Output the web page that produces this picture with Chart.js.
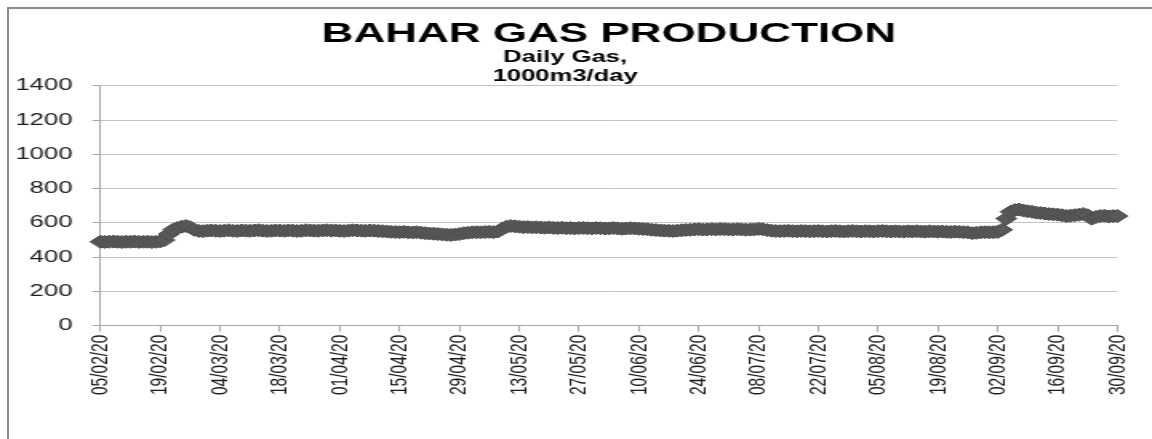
<!DOCTYPE html>
<html>
<head>
<meta charset="utf-8">
<script src="https://cdn.jsdelivr.net/npm/chart.js@4.4.1/dist/chart.umd.min.js"></script>
<style>
  html, body { margin: 0; padding: 0; background: #fff; overflow: hidden; }
  #frame {
    position: absolute; left: 7px; top: 7px; width: 1200px; height: 500px;
    border-left: 2px solid #8c8c8c; border-top: 2px solid #8c8c8c;
  }
  #gasChart { position: absolute; left: 0; top: 0; width: 1152px; height: 439px; }
</style>
</head>
<body>
<div id="frame"></div>
<canvas id="gasChart" width="720" height="439" style="width:1152px;height:439px"></canvas>
<script>
// daily gas production, 1000 m3/day, 05/02/20 .. 30/09/20
const startDate = new Date(2020, 1, 5);
const dayCount = 239;

const gasValues = [
    // 05/02 - 18/02
    490, 489, 490, 491, 490, 488, 490, 490, 491, 489, 490, 490, 488, 490,
    // 19/02 - 28/02
    492, 500, 535, 560, 570, 578, 582, 575, 560, 553,
    // 29/02 - 14/04
    552, 555, 556, 554, 553, 555, 557, 554, 553, 556,
    555, 554, 556, 557, 555, 553, 554, 556, 555, 554,
    556, 555, 553, 554, 557, 556, 555, 554, 556, 557,
    555, 556, 554, 553, 555, 557, 556, 555, 554, 556,
    555, 553, 552, 550, 548, 547,
    // 15/04 - 08/05
    546, 548, 545, 544, 546, 543, 540, 538, 537, 535,
    533, 531, 530, 532, 535, 540, 543, 545, 546, 545,
    547, 548, 546, 550,
    // 09/05 - 20/05
    565, 578, 582, 580, 578, 575, 576, 574, 575, 573, 572, 574,
    // 21/05 - 16/06
    571, 570, 572, 569, 570, 568, 570, 571, 569, 568,
    570, 569, 567, 568, 570, 568, 566, 567, 569, 568,
    566, 565, 563, 560, 558, 556, 555,
    // 17/06 - 09/07
    554, 553, 555, 557, 559, 560, 562, 563, 561, 562,
    563, 562, 564, 563, 562, 561, 563, 562, 560, 561, 562, 565, 563,
    // 10/07 - 01/09
    558, 555, 553, 552, 553, 554, 552, 551, 553, 552,
    551, 552, 553, 551, 550, 552, 553, 551, 550, 552,
    553, 551, 550, 552, 551, 550, 552, 553, 551, 550,
    551, 550, 549, 551, 550, 552, 550, 549, 551, 550,
    549, 550, 548, 547, 549, 548, 546, 545,
    540, 542, 545, 546, 545, 546,
    // 02/09 - 30/09
    548, 560, 625, 665, 675, 678, 672, 668, 665, 660,
    658, 655, 652, 650, 648, 645, 640, 642, 645, 648,
    652, 645, 625, 635, 640, 642, 638, 640, 640
];

const tickLabels = [
    '05/02/20', '19/02/20', '04/03/20', '18/03/20', '01/04/20', '15/04/20',
    '29/04/20', '13/05/20', '27/05/20', '10/06/20', '24/06/20', '08/07/20',
    '22/07/20', '05/08/20', '19/08/20', '02/09/20', '16/09/20', '30/09/20'
];

const pad = n => String(n).padStart(2, '0');
const dates = [];
for (let i = 0; i < dayCount; i++) {
    const d = new Date(startDate.getFullYear(), startDate.getMonth(), startDate.getDate() + i);
    dates.push(pad(d.getDate()) + '/' + pad(d.getMonth() + 1) + '/' + String(d.getFullYear()).slice(2));
}

const axisGray = '#a6a6a6';
const textColor = '#1a1a1a';
const fontFamily = "'Liberation Sans', Arial, sans-serif";

const ctx = document.getElementById('gasChart').getContext('2d');
new Chart(ctx, {
    type: 'line',
    data: {
        labels: dates,
        datasets: [{
            label: 'Daily Gas',
            data: gasValues,
            showLine: false,
            pointStyle: 'rectRot',
            pointRadius: 6.5,
            pointBackgroundColor: '#595959',
            pointBorderColor: '#4d4d4d',
            pointBorderWidth: 1
        }]
    },
    options: {
        responsive: false,
        devicePixelRatio: 1,
        animation: false,
        layout: { padding: { left: 8, right: 21.5, top: 0, bottom: 41 } },
        plugins: {
            legend: { display: false },
            tooltip: { enabled: false },
            title: {
                display: true,
                text: 'BAHAR GAS PRODUCTION',
                fullSize: false,
                color: '#000',
                font: { family: fontFamily, size: 27.5, weight: 'bold', lineHeight: 1.0 },
                padding: { top: 21, bottom: 0 }
            },
            subtitle: {
                display: true,
                text: ['Daily Gas,', '1000m3/day'],
                fullSize: true,
                color: '#000',
                font: { family: fontFamily, size: 16, weight: 'bold', lineHeight: 1.17 },
                padding: { top: 0, bottom: 0 }
            }
        },
        scales: {
            x: {
                offset: false,
                grid: {
                    drawOnChartArea: false,
                    drawTicks: true,
                    tickLength: 6,
                    tickColor: c => (c.tick && c.tick.label ? axisGray : 'rgba(0,0,0,0)')
                },
                border: { color: axisGray, width: 1 },
                ticks: {
                    autoSkip: false,
                    minRotation: 90,
                    maxRotation: 90,
                    padding: 3,
                    color: textColor,
                    font: { family: fontFamily, size: 15.5 },
                    callback: function(value) {
                        const lab = this.getLabelForValue(value);
                        return tickLabels.includes(lab) ? lab : '';
                    }
                }
            },
            y: {
                min: 0,
                max: 1400,
                afterFit: scale => { scale.width = 54.8; },
                grid: { color: '#c4c4c4', lineWidth: 1, tickLength: 5, tickColor: axisGray },
                border: { color: axisGray, width: 1 },
                ticks: {
                    stepSize: 200,
                    padding: 12.5,
                    color: textColor,
                    font: { family: fontFamily, size: 16 },
                    callback: value => String(value)
                }
            }
        }
    }
});
</script>
</body>
</html>
